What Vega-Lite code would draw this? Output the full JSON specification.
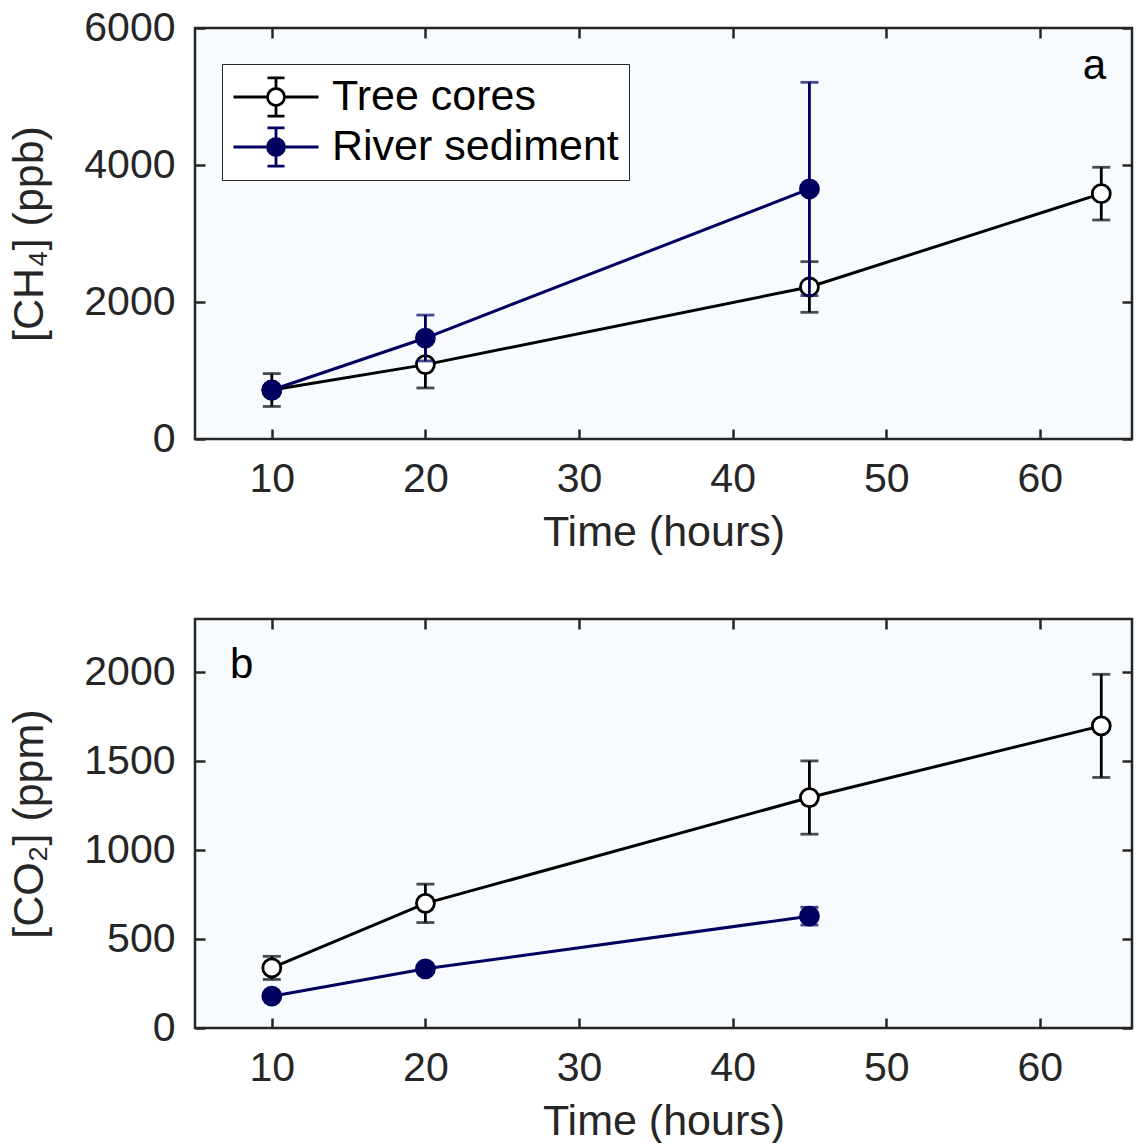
{
  "$schema": "https://vega.github.io/schema/vega-lite/v6.json",
  "padding": {"left": 7, "top": 5, "right": 5, "bottom": 5},
  "background": "white",
  "spacing": 60,
  "config": {
    "font": "Liberation Sans",
    "view": {"fill": "#f7fbfd", "stroke": "#262626", "strokeWidth": 2.5},
    "axis": {
      "labelFont": "Liberation Sans", "labelFontSize": 41, "labelColor": "#262626",
      "titleFont": "Liberation Sans", "titleFontSize": 43, "titleFontWeight": "normal", "titleColor": "#262626",
      "domain": false, "grid": false, "tickColor": "#262626", "tickWidth": 2.5, "tickSize": -10, "labelPadding": 30, "format": "d"
    },
    "title": {"font": "Liberation Sans", "fontSize": 42, "fontWeight": "normal", "color": "black"}
  },
  "resolve": {"scale": {"x": "independent", "y": "independent", "fill": "independent", "stroke": "independent"}},
  "datasets": {
    "ch4": [
      {"series": "Tree cores", "time": 10, "value": 715, "lo": 475, "hi": 955},
      {"series": "Tree cores", "time": 20, "value": 1086, "lo": 745, "hi": 1427},
      {"series": "Tree cores", "time": 45, "value": 2219, "lo": 1849, "hi": 2589},
      {"series": "Tree cores", "time": 64, "value": 3582, "lo": 3197, "hi": 3967},
      {"series": "River sediment", "time": 10, "value": 715, "lo": 655, "hi": 775},
      {"series": "River sediment", "time": 20, "value": 1474, "lo": 1139, "hi": 1809},
      {"series": "River sediment", "time": 45, "value": 3650, "lo": 2093, "hi": 5207}
    ],
    "co2": [
      {"series": "Tree cores", "time": 10, "value": 338, "lo": 273, "hi": 403},
      {"series": "Tree cores", "time": 20, "value": 701, "lo": 593, "hi": 809},
      {"series": "Tree cores", "time": 45, "value": 1296, "lo": 1090, "hi": 1502},
      {"series": "Tree cores", "time": 64, "value": 1699, "lo": 1409, "hi": 1989},
      {"series": "River sediment", "time": 10, "value": 179, "lo": 164, "hi": 194},
      {"series": "River sediment", "time": 20, "value": 333, "lo": 318, "hi": 348},
      {"series": "River sediment", "time": 45, "value": 629, "lo": 579, "hi": 679}
    ]
  },
  "vconcat": [
    {
      "width": 937, "height": 411,
      "data": {"name": "ch4"},
      "title": {"text": "a", "anchor": "end", "frame": "group", "orient": "top", "baseline": "top", "offset": -81, "dx": -26},
      "resolve": {"axis": {"x": "independent", "y": "independent"}},
      "layer": [
        {
          "transform": [{"filter": "datum.series === 'Tree cores'"}],
          "mark": {"type": "errorbar", "ticks": {"size": 18}, "thickness": 2.8, "color": "black"},
          "encoding": {
            "x": {"field": "time", "type": "quantitative", "scale": {"domain": [5, 66], "nice": false, "zero": false}, "axis": null},
            "y": {"field": "lo", "type": "quantitative", "scale": {"domain": [0, 6000], "nice": false}, "axis": null},
            "y2": {"field": "hi"}
          }
        },
        {
          "transform": [{"filter": "datum.series === 'Tree cores'"}],
          "mark": {"type": "line", "strokeWidth": 3, "color": "black"},
          "encoding": {
            "x": {"field": "time", "type": "quantitative", "axis": {"orient": "bottom", "title": "Time (hours)", "values": [10, 20, 30, 40, 50, 60], "titlePadding": 12}},
            "y": {"field": "value", "type": "quantitative", "axis": {"orient": "left", "title": "[CH₄] (ppb)", "values": [0, 2000, 4000, 6000], "titlePadding": 32}}
          }
        },
        {
          "transform": [{"filter": "datum.series === 'Tree cores'"}],
          "mark": {"type": "circle", "size": 324, "strokeWidth": 2.8, "opacity": 1},
          "encoding": {
            "x": {"field": "time", "type": "quantitative", "axis": {"orient": "top", "title": null, "labels": false, "values": [10, 20, 30, 40, 50, 60]}},
            "y": {"field": "value", "type": "quantitative", "axis": {"orient": "right", "title": null, "labels": false, "values": [0, 2000, 4000, 6000]}},
            "fill": {"field": "series", "type": "nominal", "scale": {"domain": ["Tree cores", "River sediment"], "range": ["white", "#00005e"]},
              "legend": {"title": null, "orient": "none", "legendX": 27, "legendY": 36, "symbolType": "M-1,0H-0.2M0.2,0H1M0,-0.45V-0.2M0,0.2V0.45M-0.2,-0.45H0.2M-0.2,0.45H0.2M-0.2,0A0.2,0.2,0,1,0,0.2,0A0.2,0.2,0,1,0,-0.2,0Z", "symbolSize": 7225, "symbolStrokeWidth": 2.8, "labelFontSize": 43, "labelFont": "Liberation Sans", "labelColor": "black", "labelOffset": 12, "strokeColor": "#262626", "fillColor": "white", "padding": 10, "rowPadding": 4, "clipHeight": 46, "labelLimit": 600}},
            "stroke": {"field": "series", "type": "nominal", "scale": {"domain": ["Tree cores", "River sediment"], "range": ["black", "#00005e"]},
              "legend": {"title": null, "orient": "none", "legendX": 27, "legendY": 36, "symbolType": "M-1,0H-0.2M0.2,0H1M0,-0.45V-0.2M0,0.2V0.45M-0.2,-0.45H0.2M-0.2,0.45H0.2M-0.2,0A0.2,0.2,0,1,0,0.2,0A0.2,0.2,0,1,0,-0.2,0Z", "symbolSize": 7225, "symbolStrokeWidth": 2.8, "labelFontSize": 43, "labelFont": "Liberation Sans", "labelColor": "black", "labelOffset": 12, "strokeColor": "#262626", "fillColor": "white", "padding": 10, "rowPadding": 4, "clipHeight": 46, "labelLimit": 600}}
          }
        },
        {
          "transform": [{"filter": "datum.series === 'River sediment'"}],
          "mark": {"type": "errorbar", "ticks": {"size": 18}, "thickness": 2.8, "color": "#00005e"},
          "encoding": {
            "x": {"field": "time", "type": "quantitative", "axis": null},
            "y": {"field": "lo", "type": "quantitative", "axis": null},
            "y2": {"field": "hi"}
          }
        },
        {
          "transform": [{"filter": "datum.series === 'River sediment'"}],
          "mark": {"type": "line", "strokeWidth": 3, "color": "#00005e"},
          "encoding": {
            "x": {"field": "time", "type": "quantitative", "axis": null},
            "y": {"field": "value", "type": "quantitative", "axis": null}
          }
        },
        {
          "transform": [{"filter": "datum.series === 'River sediment'"}],
          "mark": {"type": "circle", "size": 324, "strokeWidth": 2.8, "opacity": 1},
          "encoding": {
            "x": {"field": "time", "type": "quantitative", "axis": null},
            "y": {"field": "value", "type": "quantitative", "axis": null},
            "fill": {"field": "series", "type": "nominal"},
            "stroke": {"field": "series", "type": "nominal"}
          }
        }
      ]
    },
    {
      "width": 937, "height": 409,
      "data": {"name": "co2"},
      "title": {"text": "b", "anchor": "start", "frame": "group", "orient": "top", "baseline": "top", "offset": -69, "dx": 35},
      "resolve": {"axis": {"x": "independent", "y": "independent"}},
      "layer": [
        {
          "transform": [{"filter": "datum.series === 'Tree cores'"}],
          "mark": {"type": "errorbar", "ticks": {"size": 18}, "thickness": 2.8, "color": "black"},
          "encoding": {
            "x": {"field": "time", "type": "quantitative", "scale": {"domain": [5, 66], "nice": false, "zero": false}, "axis": null},
            "y": {"field": "lo", "type": "quantitative", "scale": {"domain": [0, 2300], "nice": false}, "axis": null},
            "y2": {"field": "hi"}
          }
        },
        {
          "transform": [{"filter": "datum.series === 'Tree cores'"}],
          "mark": {"type": "line", "strokeWidth": 3, "color": "black"},
          "encoding": {
            "x": {"field": "time", "type": "quantitative", "axis": {"orient": "bottom", "title": "Time (hours)", "values": [10, 20, 30, 40, 50, 60], "titlePadding": 12}},
            "y": {"field": "value", "type": "quantitative", "axis": {"orient": "left", "title": "[CO₂] (ppm)", "values": [0, 500, 1000, 1500, 2000], "titlePadding": 32}}
          }
        },
        {
          "transform": [{"filter": "datum.series === 'Tree cores'"}],
          "mark": {"type": "circle", "size": 324, "strokeWidth": 2.8, "opacity": 1},
          "encoding": {
            "x": {"field": "time", "type": "quantitative", "axis": {"orient": "top", "title": null, "labels": false, "values": [10, 20, 30, 40, 50, 60]}},
            "y": {"field": "value", "type": "quantitative", "axis": {"orient": "right", "title": null, "labels": false, "values": [0, 500, 1000, 1500, 2000]}},
            "fill": {"field": "series", "type": "nominal", "scale": {"domain": ["Tree cores", "River sediment"], "range": ["white", "#00005e"]}, "legend": null},
            "stroke": {"field": "series", "type": "nominal", "scale": {"domain": ["Tree cores", "River sediment"], "range": ["black", "#00005e"]}, "legend": null}
          }
        },
        {
          "transform": [{"filter": "datum.series === 'River sediment'"}],
          "mark": {"type": "errorbar", "ticks": {"size": 18}, "thickness": 2.8, "color": "#00005e"},
          "encoding": {
            "x": {"field": "time", "type": "quantitative", "axis": null},
            "y": {"field": "lo", "type": "quantitative", "axis": null},
            "y2": {"field": "hi"}
          }
        },
        {
          "transform": [{"filter": "datum.series === 'River sediment'"}],
          "mark": {"type": "line", "strokeWidth": 3, "color": "#00005e"},
          "encoding": {
            "x": {"field": "time", "type": "quantitative", "axis": null},
            "y": {"field": "value", "type": "quantitative", "axis": null}
          }
        },
        {
          "transform": [{"filter": "datum.series === 'River sediment'"}],
          "mark": {"type": "circle", "size": 324, "strokeWidth": 2.8, "opacity": 1},
          "encoding": {
            "x": {"field": "time", "type": "quantitative", "axis": null},
            "y": {"field": "value", "type": "quantitative", "axis": null},
            "fill": {"field": "series", "type": "nominal", "legend": null},
            "stroke": {"field": "series", "type": "nominal", "legend": null}
          }
        }
      ]
    }
  ]
}
